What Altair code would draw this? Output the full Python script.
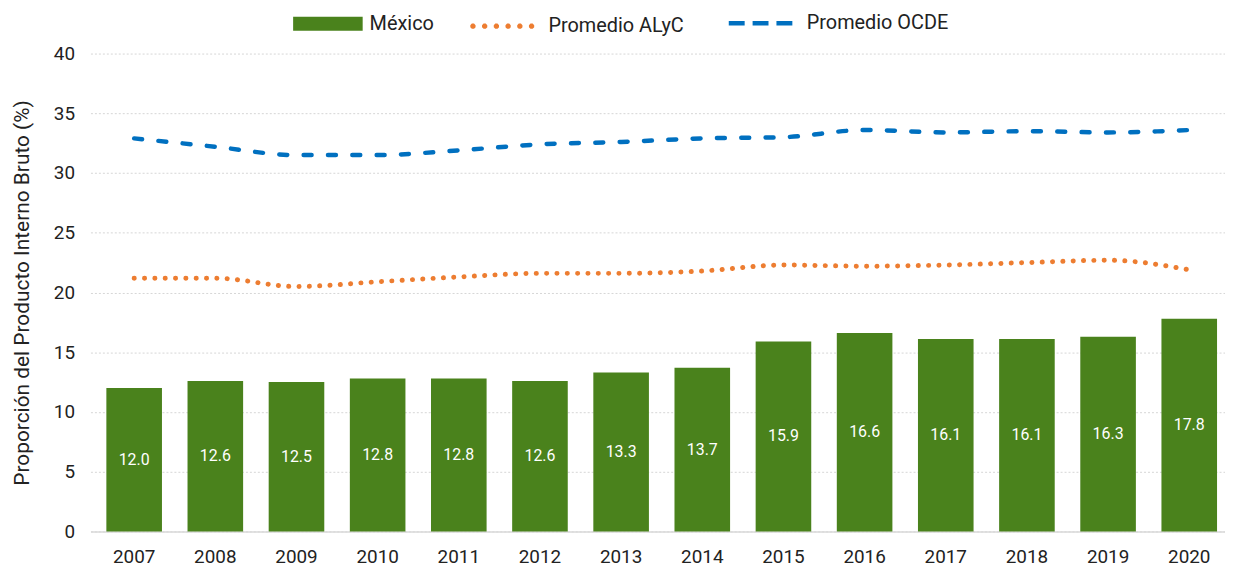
import math
import altair as alt
import pandas as pd

years = ["2007", "2008", "2009", "2010", "2011", "2012", "2013",
         "2014", "2015", "2016", "2017", "2018", "2019", "2020"]
mexico = [12.0, 12.6, 12.5, 12.8, 12.8, 12.6, 13.3, 13.7, 15.9, 16.6, 16.1, 16.1, 16.3, 17.8]
alyc = [21.2, 21.2, 20.5, 20.9, 21.3, 21.6, 21.6, 21.8, 22.3, 22.2, 22.3, 22.5, 22.7, 21.9]
ocde = [32.9, 32.2, 31.5, 31.5, 31.9, 32.4, 32.6, 32.9, 33.0, 33.6, 33.4, 33.5, 33.4, 33.6]
series_bar = ["México"]
series_alyc = ["Promedio ALyC"]
series_ocde = ["Promedio OCDE"]
y_title = "Proporción del Producto Interno Bruto (%)"

GREEN = "#4A821C"
ORANGE = "#ED7D31"
BLUE = "#0070C0"
FONT = "Roboto"
TXT = "#222222"

df_bar = pd.DataFrame({"Año": years, "valor": mexico, "serie": series_bar[0]})
df_bar["half"] = df_bar["valor"] / 2
df_bar["label"] = [f"{v:.1f}" for v in mexico]
df_alyc = pd.DataFrame({"Año": years, "valor": alyc, "serie": series_alyc[0]})
df_ocde = pd.DataFrame({"Año": years, "valor": ocde, "serie": series_ocde[0]})

x_scale = alt.Scale(range=[0, 1150], paddingInner=0.315, paddingOuter=0.196)
y_scale = alt.Scale(domain=[0, 40], nice=False)

x_enc = alt.X(
    "Año:O", scale=x_scale,
    axis=alt.Axis(
        title=None, labelAngle=0, labelFontSize=19, labelColor=TXT,
        labelFont=FONT, labelPadding=16, ticks=False, domain=True,
        domainColor="#d9d9d9", domainWidth=1.5, grid=False,
    ),
)


def octagon(cx, r):
    pts = []
    for k in range(8):
        a = math.pi / 8 + k * math.pi / 4
        pts.append(f"{cx + r * math.cos(a):.3f},{r * math.sin(a):.3f}")
    return "M" + " L".join(pts) + " Z"


dots_path = " ".join(octagon(c, 0.035) for c in [-0.9, -0.54, -0.18, 0.18, 0.54, 0.9])

legend_common = dict(title=None, orient="none", labelFontSize=20,
                     labelFont=FONT, labelColor=TXT)

bars = alt.Chart(df_bar).mark_bar(color=GREEN).encode(
    x=x_enc,
    y=alt.Y(
        "valor:Q", scale=y_scale,
        axis=alt.Axis(
            title=y_title, values=list(range(0, 41, 5)), labelFontSize=19,
            labelColor=TXT, labelFont=FONT, labelPadding=16, tickSize=0,
            ticks=False, domain=False, grid=True, gridColor="#d6d6d6",
            gridDash=[2, 2], gridWidth=1, titleFontSize=21, titleFont=FONT,
            titleFontWeight="normal", titleColor=TXT, titlePadding=21,
        ),
    ),
    fill=alt.Fill(
        "serie:N",
        scale=alt.Scale(domain=series_bar, range=[GREEN]),
        legend=alt.Legend(
            legendX=204, legendY=-65,
            symbolType="M-1,-0.2L1,-0.2L1,0.2L-1,0.2Z",
            symbolSize=4900, symbolStrokeWidth=0, labelOffset=7,
            **legend_common,
        ),
    ),
)

labels = alt.Chart(df_bar).mark_text(
    color="white", fontSize=16, font=FONT, baseline="middle"
).encode(
    x=alt.X("Año:O", scale=x_scale),
    y=alt.Y("half:Q", scale=y_scale),
    text="label:N",
)

line_alyc = alt.Chart(df_alyc).mark_line(
    strokeWidth=5, strokeCap="round", interpolate="monotone",
    strokeDash=[0.1, 10.3],
).encode(
    x=alt.X("Año:O", scale=x_scale),
    y=alt.Y("valor:Q", scale=y_scale),
    stroke=alt.Stroke(
        "serie:N",
        scale=alt.Scale(domain=series_alyc, range=[ORANGE]),
        legend=alt.Legend(
            legendX=380, legendY=-62, symbolType=dots_path, symbolSize=4300,
            symbolStrokeWidth=3.2, symbolFillColor=ORANGE, labelOffset=12,
            **legend_common,
        ),
    ),
)

line_ocde = alt.Chart(df_ocde).mark_line(
    strokeWidth=4.5, strokeCap="round", interpolate="monotone",
    strokeDash=[8, 16.5],
).encode(
    x=alt.X("Año:O", scale=x_scale),
    y=alt.Y("valor:Q", scale=y_scale),
    stroke=alt.Stroke(
        "serie:N",
        scale=alt.Scale(domain=series_ocde, range=[BLUE]),
        legend=alt.Legend(
            legendX=640, legendY=-68, symbolType="stroke", symbolSize=4900,
            symbolStrokeWidth=4.5, symbolDash=[16, 8], labelOffset=6,
            **legend_common,
        ),
    ),
)

chart = alt.layer(bars, labels, line_alyc, line_ocde).resolve_scale(
    stroke="independent"
).properties(
    width=1142, height=481,
    autosize=alt.AutoSizeParams(type="none"),
    padding={"left": 83, "top": 44, "right": 0, "bottom": 40},
).configure(
    font=FONT, view=alt.ViewConfig(stroke=None)
)

chart.save("out.html", embed_options={"renderer": "svg", "actions": False})
